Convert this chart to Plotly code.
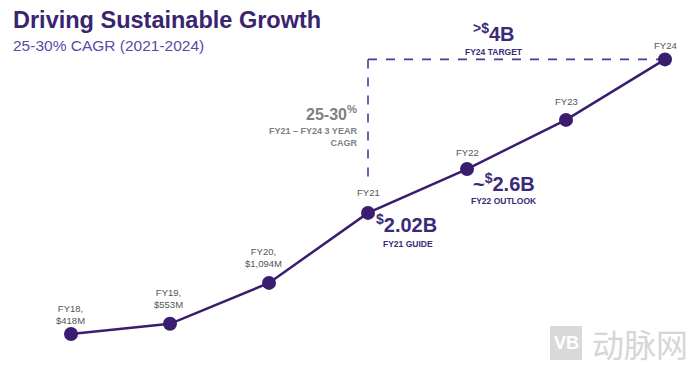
import plotly.graph_objects as go

categories = ["FY18", "FY19", "FY20", "FY21", "FY22", "FY23", "FY24"]
values = [418, 553, 1094, 2020, 2600, 3250, 4050]
point_labels = ["FY18,<br>$418M", "FY19,<br>$553M", "FY20,<br>$1,094M", "FY21", "FY22", "FY23", "FY24"]

title = "Driving Sustainable Growth"
subtitle = "25-30% CAGR (2021-2024)"

LINE = "#3a1d6e"
DARK = "#3b2a78"
GRAY = "#808080"
FONT = "Liberation Sans, Arial, sans-serif"

fig = go.Figure()
fig.add_trace(go.Scatter(
    x=list(range(len(categories))), y=values, mode="lines+markers",
    line=dict(color=LINE, width=2.5),
    marker=dict(color=LINE, size=14),
    hoverinfo="skip", showlegend=False,
))

ann = []
# point labels
label_dy = [20, 25, 25, 20, 17, 18, 14]
label_dx = [-1, -2, -6, 0, 0, 0, 0]
for i, (lab, v) in enumerate(zip(point_labels, values)):
    ann.append(dict(x=i, y=v, text=lab, showarrow=False, xref="x", yref="y",
                    yshift=label_dy[i], xshift=label_dx[i],
                    font=dict(family=FONT, size=9.5, color="#555555")))

# FY24 target
ann.append(dict(x=6, y=values[6], xref="x", yref="y", xshift=-171, yshift=13, yanchor="bottom",
                showarrow=False, borderpad=0,
                text="<b><sup>&gt;$</sup>4B</b>", font=dict(family=FONT, size=20, color=DARK)))
ann.append(dict(x=6, y=values[6], xref="x", yref="y", xshift=-171, yshift=13, yanchor="top",
                showarrow=False, borderpad=0,
                text="<b>FY24 TARGET</b>", font=dict(family=FONT, size=8.5, color=DARK)))
# CAGR
ann.append(dict(x=3, y=values[6], xref="x", yref="y", xshift=-10, yshift=-65, yanchor="bottom",
                showarrow=False, borderpad=0,
                xanchor="right", text="<b>25-30<sup>%</sup></b>", font=dict(family=FONT, size=16, color=GRAY)))
ann.append(dict(x=3, y=values[6], xref="x", yref="y", xshift=-10, yshift=-66, yanchor="top",
                showarrow=False, borderpad=0,
                xanchor="right", align="right", text="<b>FY21 – FY24 3 YEAR<br>CAGR</b>",
                font=dict(family=FONT, size=9, color=GRAY)))
# FY21 guide
ann.append(dict(x=3, y=values[3], xref="x", yref="y", xshift=38, yshift=-24, yanchor="bottom",
                showarrow=False, borderpad=0,
                text="<b><sup>$</sup>2.02B</b>", font=dict(family=FONT, size=20, color=DARK)))
ann.append(dict(x=3, y=values[3], xref="x", yref="y", xshift=40, yshift=-25, yanchor="top",
                showarrow=False, borderpad=0,
                text="<b>FY21 GUIDE</b>", font=dict(family=FONT, size=8.5, color=DARK)))
# FY22 outlook
ann.append(dict(x=4, y=values[4], xref="x", yref="y", xshift=37, yshift=-27, yanchor="bottom",
                showarrow=False, borderpad=0,
                text="<b>~<sup>$</sup>2.6B</b>", font=dict(family=FONT, size=20, color=DARK)))
ann.append(dict(x=4, y=values[4], xref="x", yref="y", xshift=37, yshift=-26, yanchor="top",
                showarrow=False, borderpad=0,
                text="<b>FY22 OUTLOOK</b>", font=dict(family=FONT, size=8.5, color=DARK)))

# title
ann.append(dict(x=0, y=1, xref="paper", yref="paper", xshift=3, yshift=3, xanchor="left", yanchor="top",
                showarrow=False, text="<b>" + title + "</b>", font=dict(family=FONT, size=23.5, color="#3a2470")))
ann.append(dict(x=0, y=1, xref="paper", yref="paper", xshift=3, yshift=-27, xanchor="left", yanchor="top",
                showarrow=False, text=subtitle, font=dict(family=FONT, size=15.5, color="#5a4aa8")))

# watermark
ann.append(dict(x=1, y=0, xref="paper", yref="paper", xshift=-10, yshift=28, xanchor="right", yanchor="middle",
                showarrow=False, text="动脉网", font=dict(family="Noto Sans CJK SC", size=32, color="#d6d6d6")))
ann.append(dict(x=1, y=0, xref="paper", yref="paper", xshift=-134, yshift=28, xanchor="center", yanchor="middle",
                showarrow=False, text="<b>VB</b>", font=dict(family=FONT, size=18, color="#ffffff")))

shapes = [
    dict(type="line", xref="x", yref="y", x0=3, x1=6, y0=values[6], y1=values[6],
         line=dict(color="#4a3a9a", width=1.6, dash="dash"), layer="below"),
    dict(type="line", xref="x", yref="y", ysizemode="pixel", yanchor=values[6],
         x0=3, x1=3, y0=0, y1=-120, line=dict(color="#4a3a9a", width=1.6, dash="dash"), layer="below"),
    dict(type="rect", xref="paper", yref="paper", xsizemode="pixel", ysizemode="pixel",
         xanchor=1, yanchor=0, x0=-150, x1=-118, y0=11, y1=45,
         fillcolor="#d9d9d9", line=dict(width=0), layer="below"),
]

fig.update_layout(
    width=692, height=363, margin=dict(l=0, r=0, t=0, b=0),
    paper_bgcolor="white", plot_bgcolor="white",
    xaxis=dict(range=[-0.6364, 6.3535], visible=False, fixedrange=True),
    yaxis=dict(range=[-71, 4730], visible=False, fixedrange=True),
    annotations=ann, shapes=shapes, showlegend=False,
)
fig.write_html("out.html")
